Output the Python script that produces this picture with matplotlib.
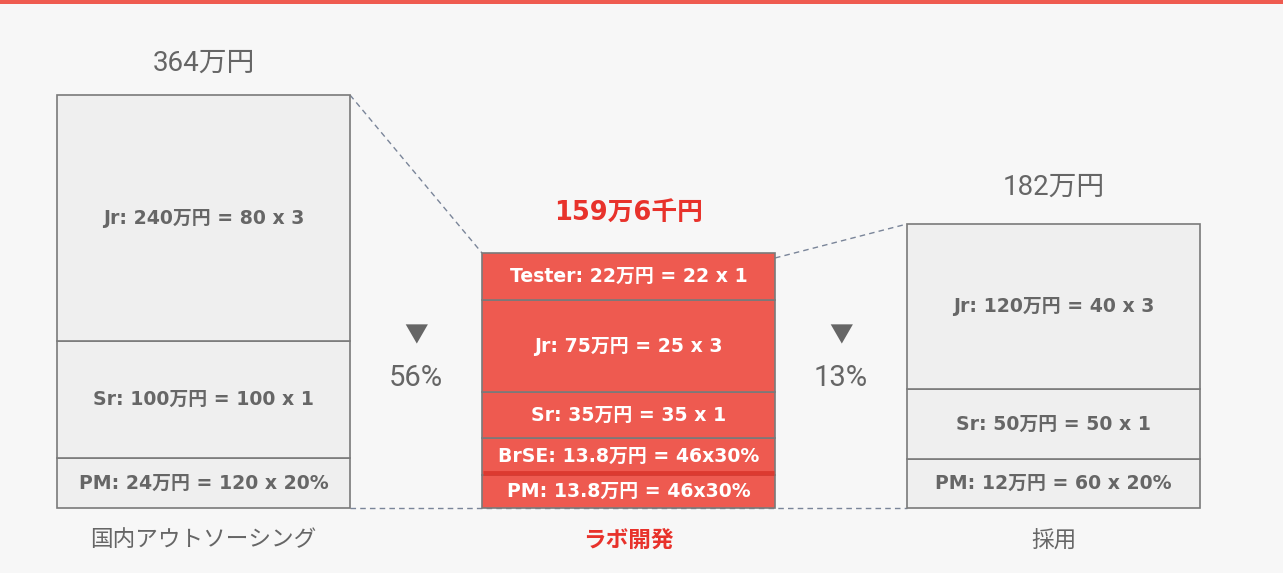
import matplotlib.pyplot as plt

plt.rcParams['font.family'] = ['Noto Sans CJK JP', 'DejaVu Sans']

# three columns, segments listed bottom -> top
categories = ['国内アウトソーシング', 'ラボ開発', '採用']
totals = ['364万円', '159万6千円', '182万円']
seg_labels = [
    ['PM: 24万円 = 120 x 20%', 'Sr: 100万円 = 100 x 1', 'Jr: 240万円 = 80 x 3'],
    ['PM: 13.8万円 = 46x30%', 'BrSE: 13.8万円 = 46x30%', 'Sr: 35万円 = 35 x 1',
     'Jr: 75万円 = 25 x 3', 'Tester: 22万円 = 22 x 1'],
    ['PM: 12万円 = 60 x 20%', 'Sr: 50万円 = 50 x 1', 'Jr: 120万円 = 40 x 3'],
]
# block heights as drawn in the picture (not proportional to the money values)
seg_heights = [
    [50, 117, 246],
    [33, 37, 46, 92, 47],
    [49, 70, 165],
]
reductions = ['56%', '13%']

bg = '#f7f7f7'
red = '#ee5a50'
grey_fill = '#efefef'
edge = '#7a7a7a'
txt_grey = '#666666'
title_red = '#e8322b'
box_font = ['DejaVu Sans', 'Noto Sans CJK JP']
num_font = ['Roboto', 'Noto Sans CJK JP']

fig = plt.figure(figsize=(12.83, 5.73), dpi=100, facecolor=bg)
ax = fig.add_axes([0, 0, 1, 1])
ax.set_xlim(0, 1283)
ax.set_ylim(0, 573)
ax.axis('off')
ax.set_facecolor(bg)

# red strip along the top
ax.axhspan(569, 573, color='#ef5b50', lw=0)

xs = [203.5, 628.5, 1053.5]
width = 293
base = 65
dash = '#7a8599'

tops = []
for i in range(3):
    bottom = base
    hi = i == 1
    for lab, h in zip(seg_labels[i], seg_heights[i]):
        ax.bar(xs[i], h, bottom=bottom, width=width,
               color=red if hi else grey_fill, edgecolor=edge, lw=1.2, zorder=3)
        ax.text(xs[i], bottom + h / 2, lab, ha='center', va='center',
                fontsize=13.6, fontweight='bold', family=box_font,
                color='white' if hi else txt_grey, zorder=5)
        bottom += h
    tops.append(bottom)

# darker stripe at bottom of the BrSE block
b_brse = base + seg_heights[1][0]
ax.plot([xs[1] - width / 2 + 1, xs[1] + width / 2 - 1], [b_brse + 2.5, b_brse + 2.5],
        color='#dc3a30', lw=3.5, zorder=4, solid_capstyle='butt')

# dashed guide lines
ax.plot([xs[0] + width / 2, xs[2] - width / 2], [base, base],
        ls=(0, (4, 3)), color=dash, lw=1, zorder=1)
ax.plot([xs[0] + width / 2, xs[1] - width / 2], [tops[0], tops[1]],
        ls=(0, (4, 3)), color=dash, lw=1, zorder=1)
ax.plot([xs[1] + width / 2, xs[2] - width / 2], [tops[1] - 5, tops[2]],
        ls=(0, (4, 3)), color=dash, lw=1, zorder=1)

# totals and category names
title_gap = [32, 39, 37]
for i in range(3):
    hi = i == 1
    ax.text(xs[i], tops[i] + title_gap[i], totals[i], ha='center', va='center',
            fontsize=18.5 if hi else 20, fontweight='bold' if hi else 'normal',
            family=box_font if hi else num_font,
            color=title_red if hi else txt_grey)
    ax.text(xs[i], 33, categories[i], ha='center', va='center', fontsize=16.3,
            fontweight='bold' if hi else 'normal',
            color=title_red if hi else txt_grey)

# reductions between columns
gaps = [(xs[0] + xs[1]) / 2, (xs[1] + xs[2]) / 2]
for gx, r in zip(gaps, reductions):
    ax.text(gx, 237, '▼', ha='center', va='center', fontsize=17, color=txt_grey)
    ax.text(gx, 195, r, ha='center', va='center', fontsize=21,
            family=num_font, color=txt_grey)

fig.savefig('out.png', dpi=100, facecolor=bg)
